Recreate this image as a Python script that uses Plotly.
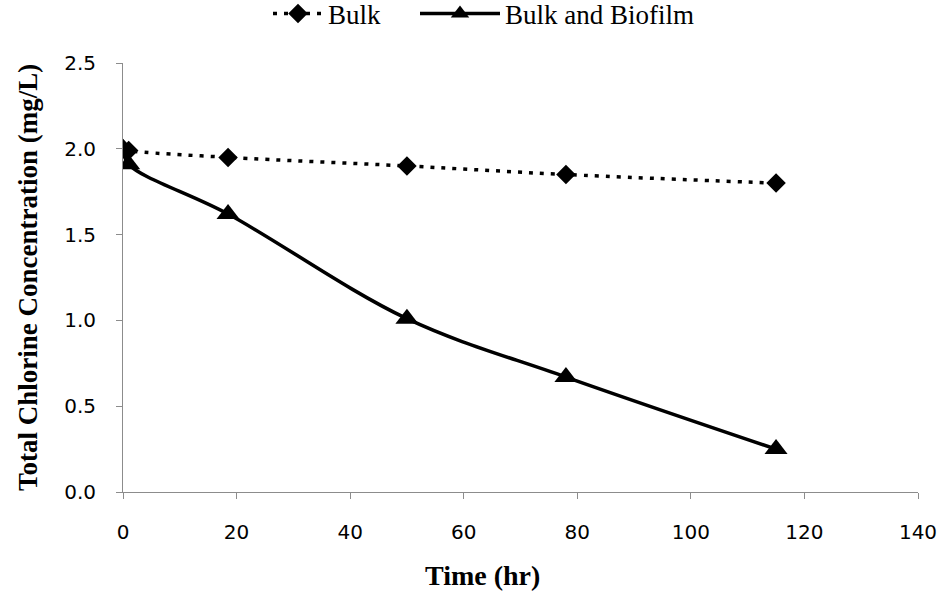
import plotly.graph_objects as go

time_bulk = [0, 1, 18.5, 50, 78, 115]
bulk = [2.0, 1.99, 1.95, 1.90, 1.85, 1.80]

time_biofilm = [0, 1, 18.5, 50, 78, 115]
biofilm = [2.0, 1.91, 1.62, 1.01, 0.67, 0.25]

x_ticks = [0, 20, 40, 60, 80, 100, 120, 140]
y_ticks = [0.0, 0.5, 1.0, 1.5, 2.0, 2.5]

x_title = "Time (hr)"
y_title = "Total Chlorine Concentration (mg/L)"

W, H = 943, 592

fig = go.Figure()
fig.add_trace(go.Scatter(
    x=time_bulk, y=bulk, name="Bulk", mode="lines+markers", legend="legend",
    line=dict(color="black", width=3.5, dash="4px,7px", shape="spline"),
    marker=dict(symbol="diamond", size=15, color="black"),
))
fig.add_trace(go.Scatter(
    x=time_biofilm, y=biofilm, name="Bulk and Biofilm", mode="lines+markers", legend="legend2",
    line=dict(color="black", width=3.5, shape="spline"),
    marker=dict(symbol="triangle-up", size=20, color="black"),
))

legend_font = dict(family="Liberation Serif", size=27, color="black")
fig.update_layout(
    width=W, height=H,
    margin=dict(l=123, r=25, t=63, b=100, autoexpand=False),
    paper_bgcolor="white", plot_bgcolor="white",
    showlegend=True,
    legend=dict(orientation="h", xref="container", yref="container",
                x=268 / W, xanchor="left", y=1 - 14 / H, yanchor="middle",
                font=legend_font, itemwidth=50, bgcolor="rgba(0,0,0,0)"),
    legend2=dict(orientation="h", xref="container", yref="container",
                 x=415 / W, xanchor="left", y=1 - 14 / H, yanchor="middle",
                 font=legend_font, itemwidth=80, bgcolor="rgba(0,0,0,0)"),
    font=dict(family="DejaVu Sans", color="black"),
)

fig.add_annotation(
    text=f"<b>{x_title}</b>", xref="paper", yref="paper",
    x=(482 - 123) / (W - 123 - 25), y=-(575 - 492) / (H - 63 - 100),
    xanchor="center", yanchor="middle", showarrow=False,
    font=dict(family="Liberation Serif", size=28, color="black"),
)

fig.update_xaxes(
    range=[0, 140], tickvals=x_ticks, ticktext=[str(v) for v in x_ticks],
    showline=True, linecolor="#8c8c8c", linewidth=1,
    ticks="outside", ticklen=6, tickcolor="#8c8c8c", ticklabelstandoff=16,
    showgrid=False, zeroline=False, automargin=False,
    tickfont=dict(family="DejaVu Sans", size=20, color="black"),
)
fig.update_yaxes(
    range=[0, 2.5], tickvals=y_ticks, ticktext=[f"{v:.1f}" for v in y_ticks],
    showline=True, linecolor="#8c8c8c", linewidth=1,
    ticks="outside", ticklen=6, tickcolor="#8c8c8c", ticklabelstandoff=16,
    showgrid=False, zeroline=False, automargin=False,
    tickfont=dict(family="DejaVu Sans", size=20, color="black"),
    title=dict(text=f"<b>{y_title}</b>", font=dict(family="Liberation Serif", size=27, color="black"), standoff=18),
)

fig.write_html("out.html", config={"displayModeBar": False},
               post_script="document.body.style.margin='0';")
